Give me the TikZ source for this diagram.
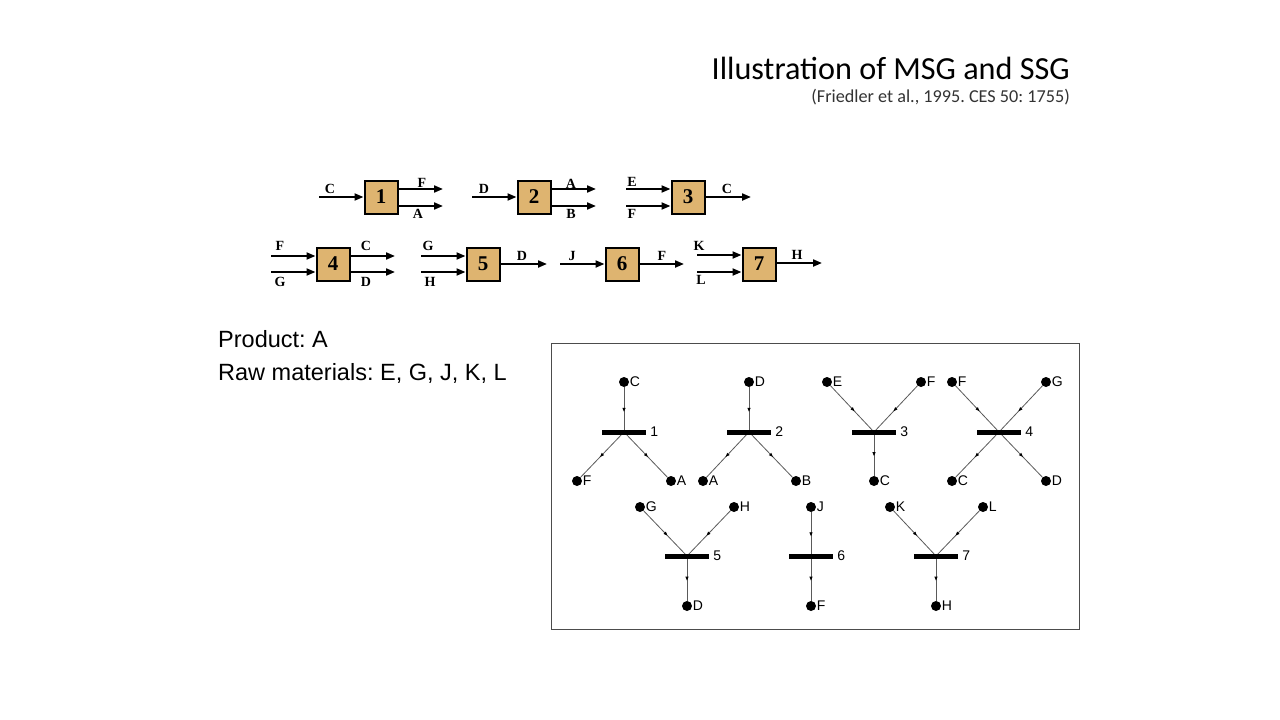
\documentclass[tikz,border=0pt]{standalone}
\usepackage{fontspec}
\setmainfont{Liberation Sans}
\newfontfamily\calfont{Carlito}
\newfontfamily\tmsfont{Liberation Serif}
\usetikzlibrary{arrows.meta,decorations.markings,backgrounds}
\definecolor{boxtan}{RGB}{222,180,112}
\definecolor{edgegray}{RGB}{90,90,90}
\frenchspacing
\tikzset{
  opunit/.style={draw=black,line width=2pt,fill=boxtan,minimum size=33pt,inner sep=0pt,
    font=\tmsfont\bfseries\fontsize{21}{21}\selectfont},
  flow/.style={line width=2pt,-{Triangle[length=9pt,width=7pt]}},
  slab/.style={font=\tmsfont\bfseries\fontsize{14}{14}\selectfont,inner sep=0pt},
  gdot/.style={circle,fill=black,minimum size=10pt,inner sep=0pt,
    label={[glab,label distance=0.5pt]0:#1}},
  pbar/.style={fill=black,minimum width=44pt,minimum height=5pt,inner sep=0pt,
    label={[glab,label distance=4pt]0:#1}},
  glab/.style={font=\fontsize{14}{14}\selectfont,inner sep=0pt},
  gedge/.style={draw=edgegray,line width=0.8pt,postaction={decorate},
    decoration={markings,mark=at position 0.55 with {\arrow[black]{Triangle[length=4pt,width=3pt]}}}},
}
\begin{document}
\begin{tikzpicture}[x=1pt,y=-1pt]
\useasboundingbox (0,0) rectangle (1280,720);
\begin{scope}[on background layer]
\fill[white] (0,0) rectangle (1280,720);
\end{scope}

% Title
\node[anchor=base east,inner sep=0pt,font=\calfont\fontsize{32.2}{32.2}\selectfont] (title) at (1070,79) {Illustration of MSG and SSG};
\node[anchor=base east,inner sep=0pt,font=\calfont\fontsize{18.2}{18.2}\selectfont,text=black!80] (sub) at (1070,102) {(Friedler et al., 1995. CES 50: 1755)};

% Product / raw materials
\node[anchor=base west,inner sep=0pt,font=\fontsize{23.5}{23.5}\selectfont] (prod) at (218,347) {Product: A};
\node[anchor=base west,inner sep=0pt,font=\fontsize{23.5}{23.5}\selectfont] (raw) at (218,380) {Raw materials: E, G, J, K, L};

% ---- Top block diagram ----
\node[opunit] (u1) at (381,197) {1};
\node[opunit] (u2) at (534,197) {2};
\node[opunit] (u3) at (688,197) {3};
\node[opunit] (u4) at (333,264) {4};
\node[opunit] (u5) at (483,264) {5};
\node[opunit] (u6) at (622,264) {6};
\node[opunit] (u7) at (759,264) {7};

% unit 1
\coordinate (i1) at (319,197);
\coordinate (o1a) at (443,189);
\coordinate (o1b) at (443,206);
\draw[flow] (i1) -- (u1.west);
\draw[flow] (o1a -| u1.east) -- (o1a);
\draw[flow] (o1b -| u1.east) -- (o1b);
\node[slab] (l1c) at (330,189) {C};
\node[slab] (l1f) at (422,183) {F};
\node[slab] (l1a) at (418,214) {A};
% unit 2
\coordinate (i2) at (472,197);
\coordinate (o2a) at (596,189);
\coordinate (o2b) at (596,206);
\draw[flow] (i2) -- (u2.west);
\draw[flow] (o2a -| u2.east) -- (o2a);
\draw[flow] (o2b -| u2.east) -- (o2b);
\node[slab] (l2d) at (484,189) {D};
\node[slab] (l2a) at (571,184) {A};
\node[slab] (l2b) at (571,214) {B};
% unit 3
\coordinate (i3a) at (626,189);
\coordinate (i3b) at (626,206);
\coordinate (o3) at (751,197);
\draw[flow] (i3a) -- (i3a -| u3.west);
\draw[flow] (i3b) -- (i3b -| u3.west);
\draw[flow] (u3.east) -- (o3);
\node[slab] (l3e) at (632,182) {E};
\node[slab] (l3f) at (632,214) {F};
\node[slab] (l3c) at (727,189) {C};
% unit 4
\coordinate (i4a) at (271,256);
\coordinate (i4b) at (271,272);
\coordinate (o4a) at (395,256);
\coordinate (o4b) at (395,272);
\draw[flow] (i4a) -- (i4a -| u4.west);
\draw[flow] (i4b) -- (i4b -| u4.west);
\draw[flow] (o4a -| u4.east) -- (o4a);
\draw[flow] (o4b -| u4.east) -- (o4b);
\node[slab] (l4f) at (280,246) {F};
\node[slab] (l4g) at (280,282) {G};
\node[slab] (l4c) at (366,246) {C};
\node[slab] (l4d) at (366,282) {D};
% unit 5
\coordinate (i5a) at (421,256);
\coordinate (i5b) at (421,272);
\coordinate (o5) at (547,264);
\draw[flow] (i5a) -- (i5a -| u5.west);
\draw[flow] (i5b) -- (i5b -| u5.west);
\draw[flow] (u5.east) -- (o5);
\node[slab] (l5g) at (428,246) {G};
\node[slab] (l5h) at (430,282) {H};
\node[slab] (l5d) at (522,256) {D};
% unit 6
\coordinate (i6) at (560,264);
\coordinate (o6) at (684,264);
\draw[flow] (i6) -- (u6.west);
\draw[flow] (u6.east) -- (o6);
\node[slab] (l6j) at (572,256) {J};
\node[slab] (l6f) at (662,256) {F};
% unit 7
\coordinate (i7a) at (697,255);
\coordinate (i7b) at (697,272);
\coordinate (o7) at (822,263);
\draw[flow] (i7a) -- (i7a -| u7.west);
\draw[flow] (i7b) -- (i7b -| u7.west);
\draw[flow] (u7.east |- o7) -- (o7);
\node[slab] (l7k) at (699,246) {K};
\node[slab] (l7l) at (701,280) {L};
\node[slab] (l7h) at (797,255) {H};

% ---- P-graph ----
\node[draw=black!70,line width=0.8pt,minimum width=528pt,minimum height=286pt,inner sep=0pt] (frame) at (815,486) {};

% group 1
\node[gdot=C] (g1c) at (624,382) {};
\node[pbar=1] (b1) at (624,432) {};
\node[gdot=F] (g1f) at (577,481) {};
\node[gdot=A] (g1a) at (671,481) {};
% group 2
\node[gdot=D] (g2d) at (749,382) {};
\node[pbar=2] (b2) at (749,432) {};
\node[gdot=A] (g2a) at (703,481) {};
\node[gdot=B] (g2b) at (796,481) {};
% group 3
\node[gdot=E] (g3e) at (827,382) {};
\node[gdot=F] (g3f) at (921,382) {};
\node[pbar=3] (b3) at (874,432) {};
\node[gdot=C] (g3c) at (874,481) {};
% group 4
\node[gdot=F] (g4f) at (952,382) {};
\node[gdot=G] (g4g) at (1046,382) {};
\node[pbar=4] (b4) at (999,432) {};
\node[gdot=C] (g4c) at (952,481) {};
\node[gdot=D] (g4d) at (1046,481) {};
% group 5
\node[gdot=G] (g5g) at (640,507) {};
\node[gdot=H] (g5h) at (734,507) {};
\node[pbar=5] (b5) at (687,556) {};
\node[gdot=D] (g5d) at (687,606) {};
% group 6
\node[gdot=J] (g6j) at (811,507) {};
\node[pbar=6] (b6) at (811,556) {};
\node[gdot=F] (g6f) at (811,606) {};
% group 7
\node[gdot=K] (g7k) at (890,507) {};
\node[gdot=L] (g7l) at (983,507) {};
\node[pbar=7] (b7) at (936,556) {};
\node[gdot=H] (g7h) at (936,606) {};

\begin{scope}[on background layer]
\draw[gedge] (g1c) -- (b1.center);
\draw[gedge] (b1.center) -- (g1f);
\draw[gedge] (b1.center) -- (g1a);
\draw[gedge] (g2d) -- (b2.center);
\draw[gedge] (b2.center) -- (g2a);
\draw[gedge] (b2.center) -- (g2b);
\draw[gedge] (g3e) -- (b3.center);
\draw[gedge] (g3f) -- (b3.center);
\draw[gedge] (b3.center) -- (g3c);
\draw[gedge] (g4f) -- (b4.center);
\draw[gedge] (g4g) -- (b4.center);
\draw[gedge] (b4.center) -- (g4c);
\draw[gedge] (b4.center) -- (g4d);
\draw[gedge] (g5g) -- (b5.center);
\draw[gedge] (g5h) -- (b5.center);
\draw[gedge] (b5.center) -- (g5d);
\draw[gedge] (g6j) -- (b6.center);
\draw[gedge] (b6.center) -- (g6f);
\draw[gedge] (g7k) -- (b7.center);
\draw[gedge] (g7l) -- (b7.center);
\draw[gedge] (b7.center) -- (g7h);
\end{scope}
\end{tikzpicture}
\end{document}
